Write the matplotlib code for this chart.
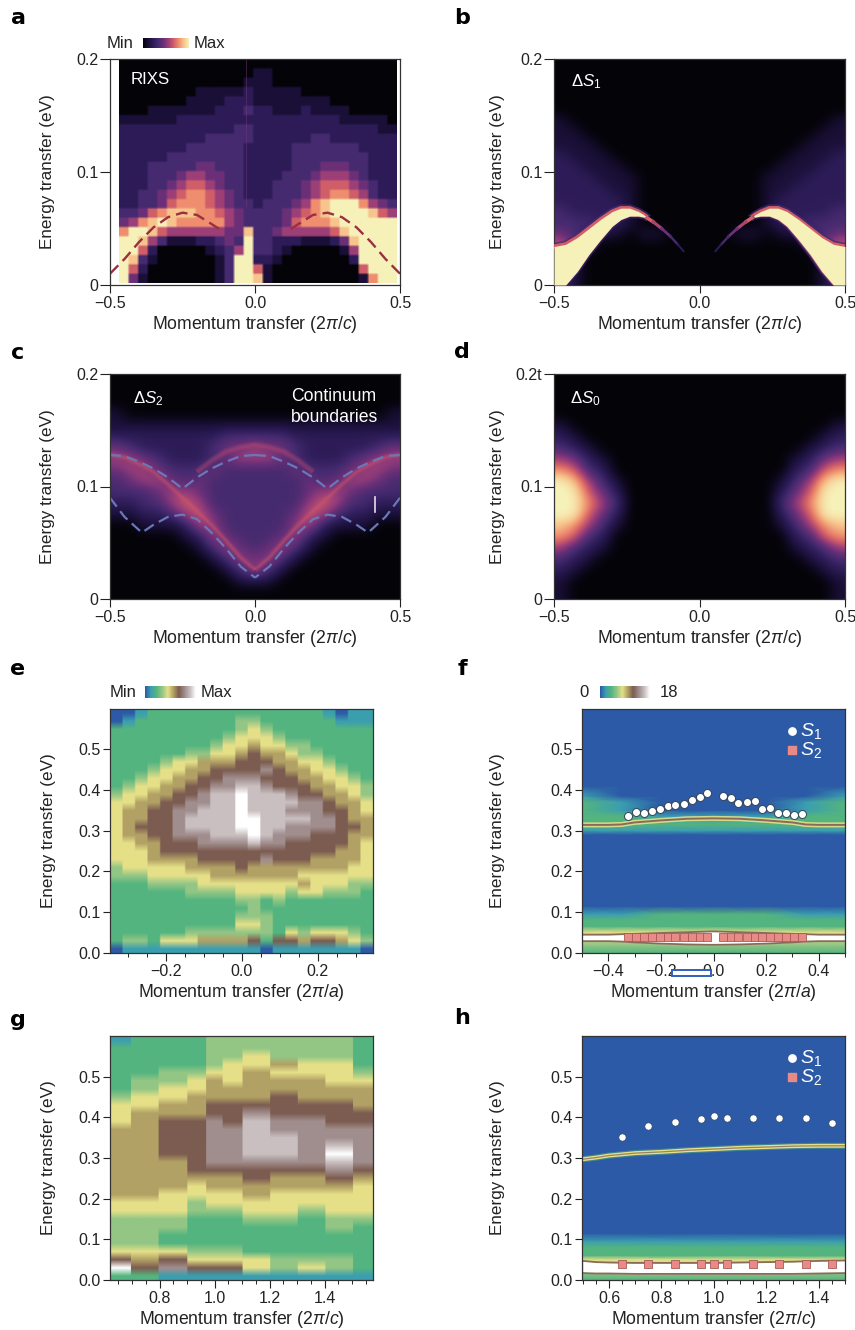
import numpy as np
import matplotlib
matplotlib.use("Agg")
import matplotlib.pyplot as plt
from matplotlib.colors import LinearSegmentedColormap
from matplotlib.patches import Rectangle
from matplotlib.ticker import MultipleLocator

plt.rcParams['font.family'] = ['Liberation Sans', 'DejaVu Sans']
plt.rcParams['mathtext.fontset'] = 'custom'
plt.rcParams['mathtext.rm'] = 'Liberation Sans'
plt.rcParams['mathtext.it'] = 'Liberation Sans:italic'
plt.rcParams['mathtext.bf'] = 'Liberation Sans:bold'

W, H = 855, 1330
TEXT = '#222222'

# --- intensity levels, 0 (min) to 9 (max), top row first ---
a_rows = [
    "00000 00000 00000 00000 00000 0000",
    "00000 00000 00001 10000 00000 0000",
    "00000 00000 00011 10000 00000 0000",
    "00000 00011 11121 11110 00000 0000",
    "00000 00111 12221 11111 11000 0000",
    "00011 11111 22232 21112 11110 0000",
    "11111 12222 22222 22222 22211 1110",
    "22222 22222 22332 22222 22222 2211",
    "22222 22223 33332 22222 33222 2222",
    "22222 22333 33322 22233 33333 2222",
    "22222 33333 33322 22233 33333 3222",
    "22233 33344 33322 22233 34443 3222",
    "22233 34554 43322 22333 45554 3222",
    "22233 45665 43322 23334 56665 4322",
    "22334 56776 54322 23334 56776 5322",
    "22334 67776 54332 33345 78999 7543",
    "33467 88877 65433 33456 78999 9865",
    "45789 87777 75433 33467 77899 9999",
    "79986 55555 54483 34555 55689 9999",
    "99853 11122 34393 32221 11248 9999",
    "99620 00001 23593 32100 00015 9999",
    "98310 00000 13992 21000 00002 9999",
    "96200 00000 13996 10000 00000 6999",
    "94100 00000 13998 10000 00000 1799",
]
# left half of the b, c, d maps (these panels are mirror images about q = 0)
b_half = [
    "00000000000", "00000000000", "00000000000", "00000000000", "00000000000",
    "10000000000", "11000000000", "11100000000", "21110000000", "22111000000",
    "22211100000", "22221100000", "22222100000", "32222100000", "33322100000",
    "43211011000", "64100000000", "51000000000", "41000000000", "31000000000",
]
c_half = [
    "00000000000", "00000000000", "00000000000", "10000000000", "11111111111",
    "22222222333", "43222223445", "55432223455", "45543334333", "34554343333",
    "33345543333", "22335653333", "11223564333", "00111255333", "00000125433",
    "00000013543", "00000001354", "00000000135", "00000000011", "00000000000",
]
d_half = [
    "00000", "00000", "00000", "00000", "10000", "21000", "32100", "54210",
    "76320", "98531", "99642", "99753", "99642", "87531", "76320", "53210",
    "32100", "21000", "10000", "10000",
]
e_rows = [
    "001222222222222221011", "012222222233222222111", "222222222234322222222",
    "222222222344432222222", "222222223445443322222", "222222334456554332222",
    "222234455566655443222", "222344556666765544322", "223445566777666554432",
    "234455667788766655443", "344556678898887665543", "445566778898888776554",
    "455667788898887776654", "455667888899888877655", "456667888899887777665",
    "455667778889877766655", "445566677778776666654", "444566666666666666554",
    "444555566666766655554", "344444555565555555544", "333444445555555444444",
    "222333344444444544433", "222222333344443443332", "222222222233232222222",
    "222222222223222222222", "222222222233322222222", "222222222244322222222",
    "222222333333324344432", "233244455556266566543", "011111111111011111110",
]
g_rows = [
    "12223333332", "22223333332", "22223343332", "22223445442", "22334454443",
    "23345455544", "23445555555", "34455556555", "44556666665", "45556676666",
    "45667687766", "55667787777", "55667788777", "55667788787", "55667788797",
    "55567777787", "55566666676", "55555565565", "55545555554", "55444454444",
    "44434444444", "44433344344", "33322233233", "33322222232", "33222222222",
    "33222222222", "44433322222", "65644443332", "96766643432", "22111111111",
]
g_q_edges = [0.62, 0.695, 0.795, 0.90, 0.97, 1.03, 1.10, 1.20, 1.30, 1.40, 1.50, 1.576]

# smooth backgrounds of f and h, bottom row first
f_bg_q = [-0.5, -0.35, -0.2, 0.0, 0.2, 0.35, 0.5]
f_bg_e = [0.0, 0.02, 0.05, 0.065, 0.08, 0.095, 0.115, 0.29, 0.30, 0.315, 0.335, 0.35, 0.37, 0.385, 0.41, 0.598]
f_bg = [
    "2222222", "3333333", "4444444", "2222222", "2222222", "1122211",
    "0000000", "0000000", "1111111", "2222222", "2211122", "2100012",
    "2100012", "1000001", "0000000", "0000000",
]
h_bg_q = [0.5, 1.0, 1.5]
h_bg_e = [0.0, 0.02, 0.05, 0.06, 0.08, 0.095, 0.115, 0.598]
h_bg = ["222", "333", "444", "222", "222", "111", "000", "000"]

# --- curves ---
a_dash_q = [-0.5, -0.45, -0.4, -0.35, -0.3, -0.25, -0.2, -0.15, -0.12]
a_dash_e = [0.01, 0.023, 0.038, 0.051, 0.06, 0.064, 0.062, 0.054, 0.049]

b_band_q = [-0.5, -0.46, -0.42, -0.38, -0.34, -0.30, -0.27, -0.24, -0.21, -0.19, -0.185]
b_band_up = [0.034, 0.036, 0.042, 0.050, 0.058, 0.065, 0.068, 0.068, 0.065, 0.062, 0.061]
b_band_lo = [0.0, 0.0, 0.012, 0.027, 0.040, 0.052, 0.058, 0.061, 0.061, 0.060, 0.061]
b_tail_q = [-0.19, -0.16, -0.13, -0.10, -0.075, -0.055]
b_tail_e = [0.061, 0.056, 0.05, 0.043, 0.036, 0.03]
b_tail_colors = ['#d8606a', '#a8456f', '#6b3078', '#462a70', '#2d1c58']

c_upper_q = [-0.5, -0.45, -0.4, -0.35, -0.3, -0.25, -0.2, -0.15, -0.1, -0.05, 0.0]
c_upper_e = [0.128, 0.127, 0.122, 0.116, 0.108, 0.098, 0.108, 0.116, 0.122, 0.127, 0.128]
c_lower_q = [-0.5, -0.45, -0.39, -0.35, -0.3, -0.25, -0.2, -0.15, -0.1, -0.05, 0.0]
c_lower_e = [0.09, 0.073, 0.059, 0.066, 0.073, 0.075, 0.071, 0.059, 0.045, 0.029, 0.019]
c_ridge_q = [-0.5, -0.45, -0.4, -0.35, -0.3, -0.25, -0.2, -0.15, -0.1, -0.05, 0.0]
c_ridge_e = [0.128, 0.126, 0.12, 0.113, 0.102, 0.09, 0.078, 0.066, 0.052, 0.037, 0.026]
c_arc_q = [-0.2, -0.15, -0.1, -0.05, 0.0, 0.05, 0.1, 0.15, 0.2]
c_arc_e = [0.113, 0.123, 0.131, 0.135, 0.137, 0.135, 0.131, 0.123, 0.113]

f_line_q = [-0.5, -0.4, -0.35, -0.3, -0.2, -0.1, 0.0, 0.1, 0.2, 0.3, 0.35, 0.4, 0.5]
f_line_e = [0.314, 0.314, 0.315, 0.32, 0.325, 0.329, 0.33, 0.329, 0.325, 0.32, 0.315, 0.314, 0.314]
f_band_up = [0.045, 0.045, 0.046, 0.047, 0.049, 0.051, 0.053, 0.051, 0.049, 0.047, 0.046, 0.045, 0.045]
f_band_lo = [0.029, 0.029, 0.028, 0.026, 0.023, 0.021, 0.02, 0.021, 0.023, 0.026, 0.028, 0.029, 0.029]

f_s1_q = [-0.324, -0.293, -0.263, -0.234, -0.203, -0.174, -0.145, -0.114, -0.083, -0.053, -0.024,
          0.036, 0.065, 0.095, 0.126, 0.156, 0.185, 0.216, 0.245, 0.276, 0.305, 0.335]
f_s1_e = [0.336, 0.346, 0.344, 0.348, 0.354, 0.360, 0.363, 0.366, 0.375, 0.382, 0.393,
          0.384, 0.381, 0.367, 0.371, 0.372, 0.352, 0.356, 0.342, 0.343, 0.339, 0.341]
f_s2_e = [0.04] * len(f_s1_q)

h_line_q = [0.5, 0.55, 0.6, 0.7, 0.8, 0.9, 1.0, 1.1, 1.2, 1.3, 1.4, 1.5]
h_line_e = [0.297, 0.301, 0.306, 0.312, 0.315, 0.319, 0.322, 0.325, 0.327, 0.329, 0.33, 0.33]
h_band_up = [0.047, 0.044, 0.043, 0.042, 0.042, 0.042, 0.042, 0.043, 0.044, 0.045, 0.047, 0.048]
h_band_lo = [0.017, 0.016, 0.016, 0.015, 0.015, 0.015, 0.015, 0.015, 0.015, 0.015, 0.016, 0.017]
h_s1_q = [0.65, 0.75, 0.85, 0.95, 1.0, 1.05, 1.15, 1.25, 1.35, 1.45]
h_s1_e = [0.351, 0.378, 0.388, 0.396, 0.403, 0.399, 0.399, 0.399, 0.399, 0.386]
h_s2_e = [0.04] * len(h_s1_q)

# --- colour maps ---
warm = LinearSegmentedColormap.from_list('warm', [
    '#040308', '#1a1038', '#2d1c58', '#462a70', '#6b3078',
    '#9c3f78', '#d05e68', '#ee8d6e', '#f6c48c', '#f6f1b8'])
earth = LinearSegmentedColormap.from_list('earth', [
    '#2c5aa6', '#3b9fb0', '#55b57e', '#93c685', '#e6e088',
    '#b3a265', '#7c5c50', '#a08c8c', '#c9bfc0', '#ffffff'])


def levels(rows):
    return np.array([[int(c) for c in r.replace(' ', '')] for r in rows], dtype=float)


def mirror(rows):
    half = levels(rows)
    return np.hstack([half, half[:, -2::-1]])


def panel(x0, y0, x1, y1, xlim, ylim, yticks, ylabels, letter, letter_x, letter_y, ylab_x, xlab, xmajor=None, xminor=None, ytick_len=7):
    ax = fig.add_axes([x0 / W, 1 - y1 / H, (x1 - x0) / W, (y1 - y0) / H])
    ax.set_xlim(xlim)
    ax.set_ylim(ylim)
    ax.set_yticks(yticks)
    ax.set_yticklabels(ylabels)
    if xmajor:
        ax.xaxis.set_major_locator(MultipleLocator(xmajor))
        ax.xaxis.set_major_formatter(lambda v, pos: f"{v:.1f}".replace('-', '\u2212'))
    if xminor:
        ax.xaxis.set_minor_locator(MultipleLocator(xminor))
    ax.tick_params(axis='x', which='major', length=6, width=0.8, pad=2, labelsize=TS, colors=TEXT)
    ax.tick_params(axis='x', which='minor', length=3, width=0.7, color=TEXT)
    ax.tick_params(axis='y', length=ytick_len, width=0.8, pad=1.5, labelsize=TS, colors=TEXT)
    for s in ax.spines.values():
        s.set_linewidth(0.9)
        s.set_color('#333333')
    ax.set_ylabel('Energy transfer (eV)', fontsize=12.3, color=TEXT, va='center')
    ax.yaxis.set_label_coords((ylab_x - x0) / (x1 - x0), 0.5)
    ax.set_xlabel('Momentum transfer (2$\\mathit{\\pi}/\\mathit{%s}$)' % xlab, fontsize=FS, color=TEXT, va='center')
    ax.xaxis.set_label_coords(0.5, -39.5 / (y1 - y0))
    fig.text(letter_x / W, 1 - letter_y / H, letter, fontsize=16, fontweight='bold', family='DejaVu Sans', color='black', ha='center', va='center')
    return ax


def bar(x0, y0, x1, y1, cmap):
    cax = fig.add_axes([x0 / W, 1 - y1 / H, (x1 - x0) / W, (y1 - y0) / H])
    cax.imshow(np.linspace(0, 1, 128)[None, :], cmap=cmap, aspect='auto')
    cax.axis('off')


def label(x, y, s, **kw):
    fig.text(x / W, 1 - y / H, s, fontsize=12, color=TEXT, va='center', **kw)


def s_legend(ax):
    h1 = ax.scatter([], [], marker='o', s=28, c='white', label='$\\mathit{S}_1$')
    h2 = ax.scatter([], [], marker='s', s=36, c='#e88a85', label='$\\mathit{S}_2$')
    ax.legend(handles=[h1, h2], loc='upper right', bbox_to_anchor=(0.95, 0.992), frameon=False, labelcolor='white',
              fontsize=14, handletextpad=-0.6, labelspacing=-0.05, borderpad=0)


FS = 12.7
TS = 11.5
fig = plt.figure(figsize=(W / 100, H / 100), dpi=100, facecolor='white')
tick_02 = [0, 0.1, 0.2]
ticks_06 = [0, 0.1, 0.2, 0.3, 0.4, 0.5]
lab_06 = ['0.0', '0.1', '0.2', '0.3', '0.4', '0.5']
qr = (-0.5, 0.5)
q_ticks = [-0.5, 0, 0.5]
q_labs = ['\u22120.5', '0.0', '0.5']
dash_style = (0, (5, 2.6))

# a
ax = panel(110, 59, 400, 285, qr, (0, 0.2), tick_02, ['0', '0.1', '0.2'], 'a', 18, 18, 48, 'c')
a_img = np.repeat(np.repeat(levels(a_rows), 4, axis=0), 4, axis=1)
ax.imshow(a_img, cmap=warm, vmin=0, vmax=9, extent=(-0.468, 0.488, 0.002, 0.2), aspect='auto', interpolation='bilinear')
ax.plot([-0.03, -0.03], [0.07, 0.2], color='#7a3a7a', lw=0.7, alpha=0.45)
ax.plot(a_dash_q, a_dash_e, color='#9b2f42', lw=1.7, ls=dash_style)
ax.plot(-np.array(a_dash_q), a_dash_e, color='#9b2f42', lw=1.7, ls=dash_style)
ax.set_xticks(q_ticks)
ax.set_xticklabels(q_labs)
ax.set_xlim(qr)
ax.set_ylim(0, 0.2)
ax.text(-0.43, 0.182, 'RIXS', color='white', fontsize=12.2, va='center')
bar(143, 38, 189, 48, warm)
label(107, 44, 'Min')
label(194, 44, 'Max')

# b
ax = panel(554, 59, 845, 285, qr, (0, 0.2), tick_02, ['0', '0.1', '0.2'], 'b', 462, 18, 497, 'c')
ax.imshow(mirror(b_half), cmap=warm, vmin=0, vmax=9, extent=(-0.5, 0.5, 0, 0.2), aspect='auto', interpolation='bicubic')
for sign in (-1, 1):
    qq = sign * np.array(b_band_q)
    ax.plot(qq, b_band_up, color='#462a70', lw=5.5, alpha=0.7, zorder=2.6)
    ax.plot(qq, b_band_up, color='#d05e68', lw=3, zorder=2.8)
    ax.plot(qq, b_band_lo, color='#2d1c58', lw=3.5, zorder=2.6)
    ax.plot(qq, b_band_lo, color='#9c3f78', lw=1.2, zorder=2.8)
    ax.fill_between(qq, b_band_lo, b_band_up, color='#f6f1b8', lw=0, zorder=3)
    for i, col in enumerate(b_tail_colors):
        ax.plot(sign * np.array(b_tail_q[i:i + 2]), b_tail_e[i:i + 2], color=col, lw=2.6 - 0.3 * i, zorder=2.7)
ax.set_xticks(q_ticks)
ax.set_xticklabels(q_labs)
ax.text(-0.44, 0.18, '\u0394$\\mathit{S}_1$', color='white', fontsize=12.2, va='center')

# c
ax = panel(110, 374, 400, 599, qr, (0, 0.2), tick_02, ['0', '0.1', '0.2'], 'c', 18, 353, 48, 'c')
ax.imshow(mirror(c_half), cmap=warm, vmin=0, vmax=9, extent=(-0.5, 0.5, 0, 0.2), aspect='auto', interpolation='bicubic')
for sign in (-1, 1):
    for lw, alpha in ((5, 0.12), (3, 0.2), (1.4, 0.25)):
        ax.plot(sign * np.array(c_ridge_q), c_ridge_e, color='#d8586a', lw=lw, alpha=alpha, solid_capstyle='butt')
    ax.plot(sign * np.array(c_upper_q), c_upper_e, color='#6a78b8', lw=1.6, ls=dash_style)
    ax.plot(sign * np.array(c_lower_q), c_lower_e, color='#6a78b8', lw=1.6, ls=dash_style)
ax.plot(c_arc_q, c_arc_e, color='#c84f70', lw=5, alpha=0.18, solid_capstyle='butt')
ax.plot(c_arc_q, c_arc_e, color='#c84f70', lw=2.5, alpha=0.25, solid_capstyle='butt')
ax.plot([0.413, 0.413], [0.077, 0.091], color='#e8dcef', lw=1.2)
ax.set_xticks(q_ticks)
ax.set_xticklabels(q_labs)
ax.text(-0.42, 0.178, '\u0394$\\mathit{S}_2$', color='white', fontsize=12.2, va='center')
ax.text(0.125, 0.18, 'Continuum', color='white', fontsize=FS, va='center')
ax.text(0.125, 0.161, 'boundaries', color='white', fontsize=FS, va='center')

# d
ax = panel(554, 374, 845, 599, qr, (0, 0.2), tick_02, ['0', '0.1', '0.2t'], 'd', 462, 352, 497, 'c')
d_full = np.hstack([levels(d_half), np.zeros((len(d_half), 11)), levels(d_half)[:, ::-1]])
ax.imshow(d_full, cmap=warm, vmin=0, vmax=9, extent=(-0.5, 0.5, 0, 0.2), aspect='auto', interpolation='bicubic')
ax.set_xticks(q_ticks)
ax.set_xticklabels(q_labs)
ax.text(-0.445, 0.178, '\u0394$\\mathit{S}_0$', color='white', fontsize=12.2, va='center')

# e
ax = panel(110, 709, 373, 953, (-0.346, 0.345), (0, 0.598), ticks_06, lab_06, 'e', 18, 669, 48, 'a', 0.2, 0.05, 5)
ax.imshow(np.repeat(levels(e_rows), 8, axis=1), cmap=earth, vmin=0, vmax=9, extent=(-0.346, 0.345, 0, 0.598), aspect='auto', interpolation='bilinear')
bar(145, 686, 195, 698, earth)
label(110, 693, 'Min')
label(201, 693, 'Max')

# f
ax = panel(582, 709, 845, 953, (-0.5, 0.5), (0, 0.598), ticks_06, lab_06, 'f', 462, 669, 497, 'a', 0.2, 0.1, 5)
ax.pcolormesh(f_bg_q, f_bg_e, levels(f_bg), cmap=earth, vmin=0, vmax=9, shading='gouraud')
ax.plot(f_line_q, f_line_e, color='#e6e088', lw=3.6, alpha=0.9)
ax.plot(f_line_q, f_line_e, color='#8a6a58', lw=1.4)
ax.fill_between(f_line_q, f_band_lo, f_band_up, color='white', lw=0)
ax.plot(f_line_q, f_band_up, color='#8a6a58', lw=1.3)
ax.plot(f_line_q, f_band_lo, color='#8a6a58', lw=1.3)
ax.scatter(f_s1_q, f_s2_e, marker='s', s=28, c='#e88a85', edgecolors='#a85a58', linewidths=0.6, zorder=4)
ax.scatter(f_s1_q, f_s1_e, marker='o', s=33, c='white', edgecolors='#334455', linewidths=0.7, zorder=4)
s_legend(ax)
bar(600, 686, 649, 698, earth)
label(584, 693, '0', ha='center')
label(660, 693, '18')
fig.add_artist(Rectangle((672 / W, 1 - 976 / H), 39 / W, 6 / H, transform=fig.transFigure, facecolor='white', edgecolor='#2f5fc0', lw=1.4))

# g
ax = panel(110, 1036, 373, 1280, (0.62, 1.576), (0, 0.6), ticks_06, lab_06, 'g', 18, 1020, 48, 'c', 0.2, 0.05, 5)
g_counts = np.round(np.diff(g_q_edges) / 0.004).astype(int)
ax.imshow(np.repeat(levels(g_rows), g_counts, axis=1), cmap=earth, vmin=0, vmax=9, extent=(0.62, 1.576, 0, 0.6), aspect='auto', interpolation='bilinear')

# h
ax = panel(582, 1036, 845, 1280, (0.497, 1.5), (0, 0.6), ticks_06, lab_06, 'h', 462, 1018, 497, 'c', 0.2, 0.05, 5)
ax.pcolormesh(h_bg_q, h_bg_e, levels(h_bg), cmap=earth, vmin=0, vmax=9, shading='gouraud')
ax.plot(h_line_q, h_line_e, color='#4fb07c', lw=4.5, alpha=0.5)
ax.plot(h_line_q, h_line_e, color='#e6e088', lw=2.8)
ax.plot(h_line_q, h_line_e, color='#8a6a58', lw=0.9, alpha=0.8)
ax.fill_between(h_line_q, h_band_lo, h_band_up, color='white', lw=0)
ax.plot(h_line_q, h_band_up, color='#8a6a58', lw=1.3)
ax.plot(h_line_q, h_band_lo, color='#8a6a58', lw=1.3)
ax.scatter(h_s1_q, h_s2_e, marker='s', s=33, c='#e88a85', edgecolors='#a85a58', linewidths=0.6, zorder=4)
ax.scatter(h_s1_q, h_s1_e, marker='o', s=27, c='white', edgecolors='#334455', linewidths=0.4, zorder=4)
s_legend(ax)

fig.savefig('out.png', dpi=100)
